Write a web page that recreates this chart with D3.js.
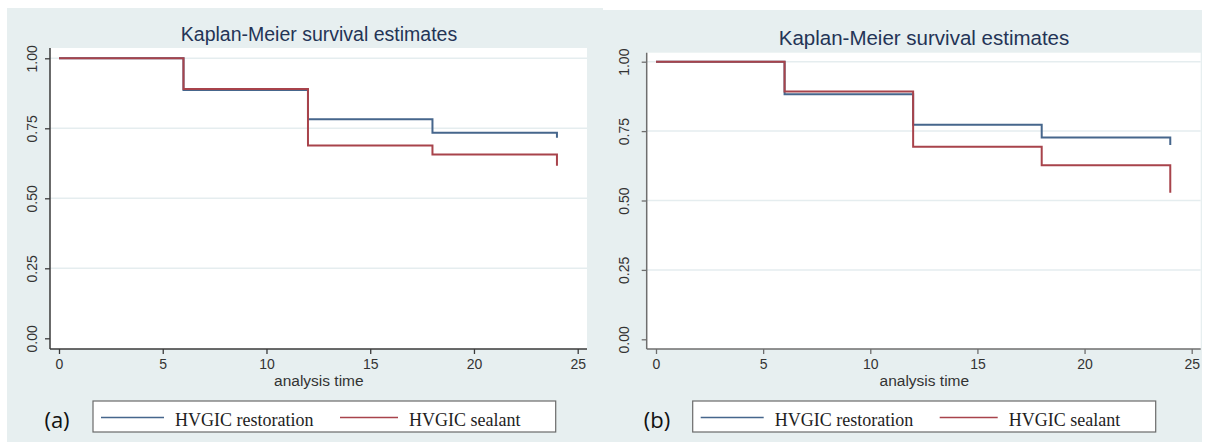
<!DOCTYPE html>
<html>
<head>
<meta charset="utf-8">
<script src="https://cdn.jsdelivr.net/npm/d3@7"></script>
<style>
  html, body { margin: 0; padding: 0; background: #ffffff; }
  svg { display: block; }
</style>
</head>
<body>
<svg id="chart" width="1208" height="442"></svg>
<script>
// Kaplan-Meier estimates for two treatment groups, two follow-up panels
const chartTitle = "Kaplan-Meier survival estimates";
const xAxisTitle = "analysis time";
const timeTicks = [0, 5, 10, 15, 20, 25];
const survTicks = [0, 0.25, 0.5, 0.75, 1];
const gridTicks = [0.25, 0.5, 0.75, 1];
const stepTimes = [0, 6, 12, 18, 24];
const seriesNames = ["HVGIC restoration", "HVGIC sealant"];
const panelLabels = ["(a)", "(b)"];

// survival probability at each step time
const restorationA = [1, 0.887, 0.782, 0.734, 0.716];
const sealantA     = [1, 0.890, 0.689, 0.656, 0.616];
const restorationB = [1, 0.883, 0.773, 0.727, 0.700];
const sealantB     = [1, 0.893, 0.694, 0.627, 0.528];

const seriesColors = ["#46668c", "#a8434b"];

const panels = [
  {
    label: panelLabels[0], series: [restorationA, sealantA],
    bg: {x: 7, y: 8, w: 596, h: 434},
    plot: {x0: 50, x1: 587, top: 48, bottom: 349},
    xr: [59, 577.7], yr: [338.3, 58.3],
    titleX: 319, titleY: 40.5, titleSize: 19.5,
    axisColor: "#3a3a3a", yLabOff: 18,
    legend: {x: 93, y: 401, w: 462.7, h: 31},
    labelX: 57
  },
  {
    label: panelLabels[1], series: [restorationB, sealantB],
    bg: {x: 603, y: 10, w: 599, h: 432},
    plot: {x0: 646.7, x1: 1200.7, top: 52.7, bottom: 349},
    xr: [656, 1191.7], yr: [339.3, 61.7],
    titleX: 924, titleY: 45, titleSize: 20.5,
    axisColor: "#6e6e6e", yLabOff: 23,
    legend: {x: 692.7, y: 401, w: 463, h: 31},
    labelX: 657
  }
];

const svg = d3.select("#chart");

panels.forEach(p => {
  const g = svg.append("g");

  // panel background
  g.append("rect")
    .attr("x", p.bg.x).attr("y", p.bg.y)
    .attr("width", p.bg.w).attr("height", p.bg.h)
    .attr("fill", "#e7eff0");

  // plot region
  g.append("rect")
    .attr("x", p.plot.x0).attr("y", p.plot.top)
    .attr("width", p.plot.x1 - p.plot.x0).attr("height", p.plot.bottom - p.plot.top)
    .attr("fill", "#ffffff");

  const x = d3.scaleLinear().domain([0, 25]).range(p.xr);
  const y = d3.scaleLinear().domain([0, 1]).range(p.yr);

  // horizontal grid lines
  g.append("g").selectAll("line").data(gridTicks).join("line")
    .attr("x1", p.plot.x0).attr("x2", p.plot.x1)
    .attr("y1", d => y(d)).attr("y2", d => y(d))
    .attr("stroke", "#e5edef").attr("stroke-width", 1.5);

  // title
  g.append("text")
    .attr("x", p.titleX).attr("y", p.titleY)
    .attr("text-anchor", "middle")
    .attr("font-family", "Liberation Sans, Arial, sans-serif")
    .attr("font-size", p.titleSize)
    .attr("fill", "#243456")
    .text(chartTitle);

  // step curves
  const line = d3.line()
    .x(d => x(d[0])).y(d => y(d[1]))
    .curve(d3.curveStepAfter);
  p.series.forEach((vals, i) => {
    const pts = stepTimes.map((t, k) => [t, vals[k]]);
    g.append("path")
      .attr("d", line(pts))
      .attr("fill", "none")
      .attr("stroke", seriesColors[i])
      .attr("stroke-width", 2)
      .attr("stroke-linejoin", "miter");
  });

  // x axis
  const xAxis = d3.axisBottom(x).tickValues(timeTicks).tickSize(5).tickPadding(5)
    .tickFormat(d3.format("d"));
  const gx = g.append("g").attr("transform", `translate(0,${p.plot.bottom})`).call(xAxis);
  gx.select(".domain").attr("d", `M${p.plot.x0},0H${p.plot.x1}`)
    .attr("stroke", p.axisColor).attr("stroke-width", 1.5);
  gx.selectAll(".tick line").attr("stroke", p.axisColor).attr("stroke-width", 1.3);
  gx.selectAll(".tick text")
    .attr("font-family", "Liberation Sans, Arial, sans-serif")
    .attr("font-size", 14).attr("fill", "#333333");

  // y axis
  const yAxis = d3.axisLeft(y).tickValues(survTicks).tickSize(5)
    .tickFormat(d3.format(".2f"));
  const gy = g.append("g").attr("transform", `translate(${p.plot.x0},0)`).call(yAxis);
  gy.select(".domain").attr("d", `M0,${p.plot.top}V${p.plot.bottom}`)
    .attr("stroke", p.axisColor).attr("stroke-width", 1.5);
  gy.selectAll(".tick line").attr("stroke", p.axisColor).attr("stroke-width", 1.3);
  gy.selectAll(".tick text")
    .attr("x", 0).attr("dy", null).attr("y", 0)
    .attr("transform", `translate(${-p.yLabOff},0) rotate(-90)`)
    .attr("text-anchor", "middle")
    .attr("dominant-baseline", "central")
    .attr("font-family", "Liberation Sans, Arial, sans-serif")
    .attr("font-size", 14).attr("fill", "#333333");

  // x axis title
  g.append("text")
    .attr("x", (p.xr[0] + p.xr[1]) / 2 + 0.5).attr("y", 385.5)
    .attr("text-anchor", "middle")
    .attr("font-family", "Liberation Sans, Arial, sans-serif")
    .attr("font-size", 15.5).attr("fill", "#333333")
    .text(xAxisTitle);

  // legend
  const L = p.legend;
  g.append("rect")
    .attr("x", L.x).attr("y", L.y).attr("width", L.w).attr("height", L.h)
    .attr("fill", "#ffffff").attr("stroke", "#6a6a6a").attr("stroke-width", 1.2);
  const entries = [
    {x1: L.x + 8, x2: L.x + 71, tx: L.x + 82},
    {x1: L.x + 247, x2: L.x + 305, tx: L.x + 316}
  ];
  entries.forEach((e, i) => {
    g.append("line")
      .attr("x1", e.x1).attr("x2", e.x2)
      .attr("y1", L.y + 16.5).attr("y2", L.y + 16.5)
      .attr("stroke", seriesColors[i]).attr("stroke-width", 1.6);
    g.append("text")
      .attr("x", e.tx).attr("y", L.y + 24.5)
      .attr("font-family", "Liberation Serif, Times New Roman, serif")
      .attr("font-size", 18).attr("fill", "#1e1e1e")
      .text(seriesNames[i]);
  });

  // panel letter
  g.append("text")
    .attr("x", p.labelX).attr("y", 428)
    .attr("text-anchor", "middle")
    .attr("font-family", "Open Sans, Noto Sans, sans-serif")
    .attr("font-size", 22).attr("fill", "#111111")
    .text(p.label);
});
</script>
</body>
</html>
